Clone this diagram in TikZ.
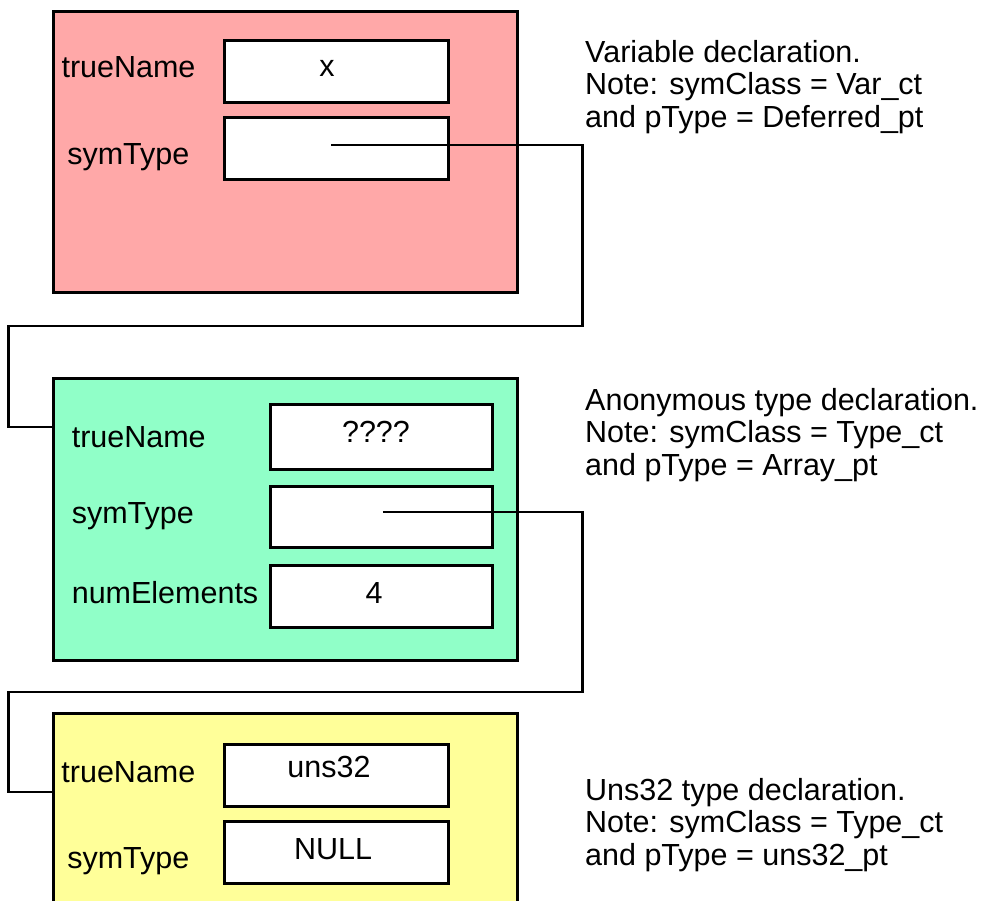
\documentclass[tikz,border=0pt]{standalone}
\usepackage{fontspec}
\setmainfont{Liberation Sans}
\usepackage{tikz}
\usetikzlibrary{positioning}
\definecolor{varpink}{RGB}{255,168,168}
\definecolor{arrgreen}{RGB}{144,255,200}
\definecolor{unsyellow}{RGB}{255,255,153}

\begin{document}
\begin{tikzpicture}[x=1pt,y=-1pt,
  decl/.style={draw, line width=2.6pt, inner sep=0, minimum width=464pt, anchor=north west},
  field/.style={draw, fill=white, line width=2.6pt, inner sep=0, minimum width=224pt, minimum height=62pt, anchor=north west},
  lab/.style={font=\fontsize{30.5}{32}\selectfont, inner sep=0, anchor=base},
  note/.style={font=\fontsize{30.5}{32.5}\selectfont, inner sep=0, align=left, anchor=north west},
  link/.style={line width=2.4pt}]
\useasboundingbox (0,0) rectangle (982,901);
% variable x
\node[decl, fill=varpink, minimum height=281pt] (var) at (52,10) {};
\node[field] (vname) at (223,39) {};
\node[field] (vsym) at (223,116) {};
\node[lab] (vnamelab) at (128.5,78) {trueName};
\node[lab] (vsymlab) at (128.3,165) {symType};
\node[lab] (vnameval) at (327,77) {x};
\node[note] (varnote) at (585,40) {Variable declaration.\\Note: symClass = Var\_ct\\and pType = Deferred\_pt};
% anonymous array type
\node[decl, fill=arrgreen, minimum height=282pt] (arr) at (52,377) {};
\node[field, minimum width=222pt, minimum height=65pt] (aname) at (269,403) {};
\node[field, minimum width=222pt, minimum height=61pt] (asym) at (269,485) {};
\node[field, minimum width=222pt, minimum height=62pt] (anum) at (269,564) {};
\node[lab, anchor=base west] (anamelab) at (71.6,447) {trueName};
\node[lab, anchor=base west] (asymlab) at (71.6,523) {symType};
\node[lab, anchor=base west] (anumlab) at (71.6,603) {numElements};
\node[lab] (anameval) at (376,442) {????};
\node[lab] (anumval) at (374,603) {4};
\node[note] (arrnote) at (585,388) {Anonymous type declaration.\\Note: symClass = Type\_ct\\and pType = Array\_pt};
% uns32 type
\node[decl, fill=unsyellow, minimum height=240pt] (uns) at (52,712) {};
\node[field] (uname) at (223,743) {};
\node[field] (usym) at (223,820) {};
\node[lab] (unamelab) at (128.4,782) {trueName};
\node[lab] (usymlab) at (128.3,868) {symType};
\node[lab] (unameval) at (329,777) {uns32};
\node[lab] (usymval) at (333,859) {NULL};
\node[note] (unsnote) at (585,778) {Uns32 type declaration.\\Note: symClass = Type\_ct\\and pType = uns32\_pt};
% pointers
\coordinate (v1) at (582.5,326);
\coordinate (v2) at (8.5,427);
\draw[link] ([xshift=-5pt,yshift=3pt]vsym.center) -| (v1) -| (v2) -- (arr.west |- v2);
\coordinate (a1) at (582.5,692);
\coordinate (a2) at (8.5,792);
\draw[link] ([xshift=1.6pt,yshift=5pt]asym.center) -| (a1) -| (a2) -- (uns.west |- a2);
\end{tikzpicture}
\end{document}
